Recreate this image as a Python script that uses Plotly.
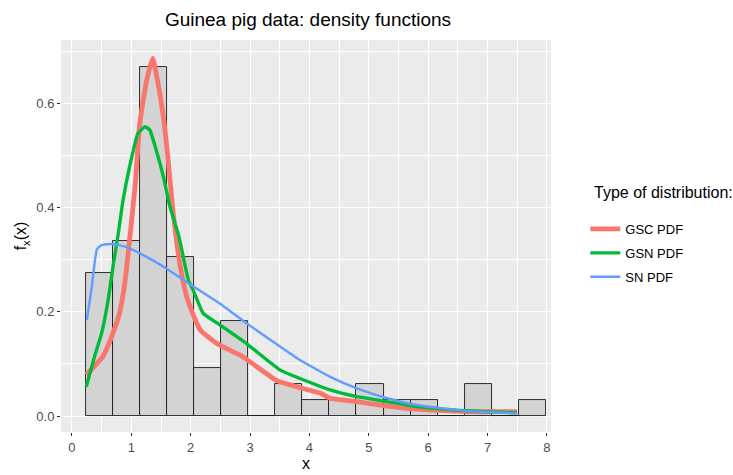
import plotly.graph_objects as go

# Histogram (Guinea pig data), 17 bins
bin_start = 0.231
bin_width = 0.4561
counts = [9, 11, 22, 10, 3, 6, 0, 2, 1, 1, 2, 1, 1, 0, 2, 0, 1]
n_obs = sum(counts)

# Density curves
gsc_x = [0.24, 0.52, 0.69, 0.80, 0.89, 1.00, 1.07, 1.14, 1.26, 1.36, 1.45, 1.54, 1.62, 1.70,
         1.82, 1.93, 2.04, 2.16, 2.44, 2.83, 3.11, 3.45, 3.79, 4.18, 4.35, 4.80, 5.31, 5.81, 6.66, 7.50]
gsc_y = [0.079, 0.114, 0.159, 0.197, 0.255, 0.37, 0.45, 0.56, 0.645, 0.686, 0.638, 0.574, 0.491, 0.395,
         0.29, 0.23, 0.195, 0.165, 0.139, 0.117, 0.095, 0.068, 0.056, 0.044, 0.034, 0.0275, 0.019, 0.013, 0.0083, 0.0083]

gsn_x = [0.24, 0.38, 0.50, 0.61, 0.69, 0.78, 0.86, 0.97, 1.11, 1.23, 1.31, 1.42, 1.54, 1.65, 1.80,
         1.96, 2.04, 2.21, 2.49, 2.94, 3.51, 3.84, 4.35, 4.80, 5.31, 5.81, 6.66, 7.50]
gsn_y = [0.056, 0.114, 0.159, 0.223, 0.286, 0.35, 0.414, 0.478, 0.542, 0.555, 0.549, 0.51, 0.459, 0.402, 0.345,
         0.261, 0.242, 0.197, 0.175, 0.139, 0.088, 0.072, 0.05, 0.037, 0.0275, 0.018, 0.01, 0.006]

sn_x = [0.25, 0.33, 0.42, 0.50, 0.69, 0.92, 1.31, 1.59, 1.93, 2.49, 2.94, 3.51, 3.84, 4.35, 4.80,
        5.31, 5.81, 6.21, 6.66, 7.50]
sn_y = [0.184, 0.245, 0.32, 0.328, 0.33, 0.324, 0.302, 0.283, 0.257, 0.216, 0.178, 0.133, 0.1075, 0.075, 0.053,
        0.034, 0.021, 0.015, 0.0096, 0.005]

x_ticks = [0, 1, 2, 3, 4, 5, 6, 7, 8]
y_ticks = [0.0, 0.2, 0.4, 0.6]
y_labels = ["0.0", "0.2", "0.4", "0.6"]

centers = [bin_start + bin_width * (i + 0.5) for i in range(len(counts))]
density = [c / (n_obs * bin_width) for c in counts]

fig = go.Figure()
fig.add_trace(go.Bar(
    x=centers, y=density, width=bin_width,
    marker=dict(color="#D3D3D3", line=dict(color="#1a1a1a", width=0.9)),
    showlegend=False, hoverinfo="skip"))

curves = [
    ("GSC PDF", gsc_x, gsc_y, "#F8766D", 4.8),
    ("GSN PDF", gsn_x, gsn_y, "#00BA38", 3.4),
    ("SN PDF", sn_x, sn_y, "#619CFF", 2.4),
]
for name, xs, ys, col, w in curves:
    fig.add_trace(go.Scatter(x=xs, y=ys, mode="lines", name=name, legendgroup=name,
                             line=dict(color=col, width=w, shape="spline", smoothing=0.4)))

fig.add_annotation(text="Type of distribution:", xref="paper", yref="paper",
                   x=(592 - 61) / 490, y=(432 - 193) / 392, xanchor="left", yanchor="middle",
                   showarrow=False, font=dict(size=16, color="#000000"))

fig.update_layout(
    width=733, height=475,
    margin=dict(l=61, r=182, t=40, b=43),
    paper_bgcolor="white", plot_bgcolor="#EBEBEB",
    font=dict(family="Liberation Sans, Arial, sans-serif", color="#000000"),
    title=dict(text="Guinea pig data: density functions", x=(63 + 553) / 2 / 733, xanchor="center",
               y=1 - 19 / 475, yanchor="middle", font=dict(size=19, color="#000000")),
    bargap=0,
    legend=dict(x=1.07, xanchor="left", y=(432 - 214) / 392, yanchor="top",
                font=dict(size=13, color="#000000"), tracegroupgap=4,
                bgcolor="rgba(0,0,0,0)"),
    xaxis=dict(range=[-0.185, 8.07], tickvals=x_ticks, ticktext=[str(v) for v in x_ticks],
               showgrid=True, gridcolor="white", gridwidth=1.1, zeroline=False, automargin=False,
               minor=dict(dtick=0.5, showgrid=True, gridcolor="white", gridwidth=0.5),
               ticks="outside", ticklen=3, tickcolor="#333333",
               tickfont=dict(size=13, color="#4D4D4D"),
               title=dict(text="x", font=dict(size=16, color="#000000"), standoff=4)),
    yaxis=dict(range=[-0.0307, 0.7214], tickvals=y_ticks, ticktext=y_labels,
               showgrid=True, gridcolor="white", gridwidth=1.1, zeroline=False, automargin=False,
               minor=dict(dtick=0.1, showgrid=True, gridcolor="white", gridwidth=0.5),
               ticks="outside", ticklen=3, tickcolor="#333333",
               tickfont=dict(size=13, color="#4D4D4D"),
               title=dict(text="f<sub>x</sub>(x)", font=dict(size=16, color="#000000"), standoff=5)),
)

fig.write_html("out.html")
